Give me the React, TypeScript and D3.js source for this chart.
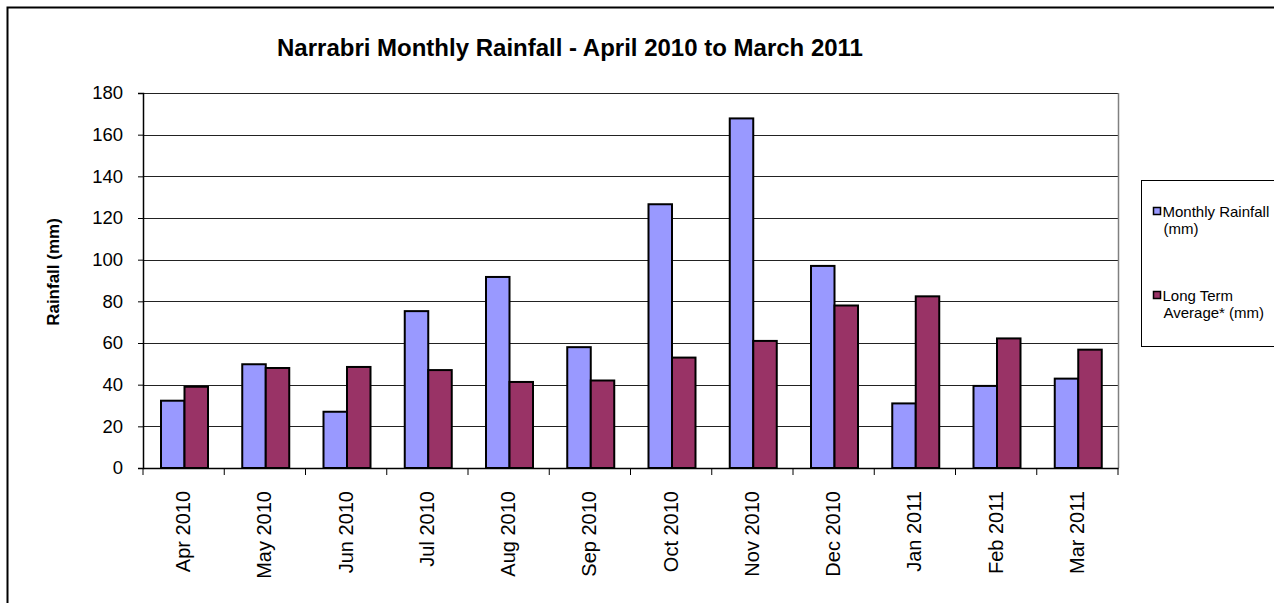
import * as d3 from "d3";
import React, { useRef, useEffect } from "react";

const months = ["Apr 2010", "May 2010", "Jun 2010", "Jul 2010", "Aug 2010", "Sep 2010", "Oct 2010", "Nov 2010", "Dec 2010", "Jan 2011", "Feb 2011", "Mar 2011"];
const monthlyRainfall = [32.3, 49.8, 27, 75.3, 91.7, 58, 126.6, 167.8, 97, 31, 39.4, 42.9];
const longTermAverage = [39, 48, 48.5, 47, 41.3, 42, 53, 61, 78, 82.4, 62.2, 56.8];
const seriesNames = ["Monthly Rainfall (mm)", "Long Term Average* (mm)"];
const yTicks = [0, 20, 40, 60, 80, 100, 120, 140, 160, 180];

const W = 1274, H = 603;
const margin = { top: 93, right: 156, bottom: 135, left: 143 };
const colors = ["#9999ff", "#993366"];
const font = "'Liberation Sans', Arial, sans-serif";

function App() {
  const ref = useRef(null);

  useEffect(() => {
    const svg = d3.select(ref.current);
    svg.selectAll("*").remove();

    const width = W - margin.left - margin.right;
    const height = H - margin.top - margin.bottom;

    // outer chart border
    svg.append("rect")
      .attr("x", 7.5).attr("y", 7.5)
      .attr("width", W).attr("height", H)
      .attr("fill", "white").attr("stroke", "black").attr("stroke-width", 2);

    svg.append("text")
      .attr("x", 570).attr("y", 56)
      .attr("text-anchor", "middle")
      .style("font-family", font).style("font-weight", "bold").style("font-size", "24px")
      .text("Narrabri Monthly Rainfall - April 2010 to March 2011");

    const g = svg.append("g").attr("transform", `translate(${margin.left},${margin.top})`);

    const x = d3.scaleBand().domain(months).range([0, width]);
    const x1 = d3.scaleBand().domain(["a", "b"]).range([18, 18 + 47]);
    const y = d3.scaleLinear().domain([0, 180]).range([height, 0]);

    // gridlines
    g.selectAll(".grid")
      .data(yTicks.slice(1))
      .enter().append("line")
      .attr("x1", 0).attr("x2", width)
      .attr("y1", (d) => Math.round(y(d)) + 0.5).attr("y2", (d) => Math.round(y(d)) + 0.5)
      .attr("stroke", "#222").attr("stroke-width", 1);

    // right border of plot
    g.append("line")
      .attr("x1", width + 0.5).attr("x2", width + 0.5)
      .attr("y1", 0).attr("y2", height)
      .attr("stroke", "#808080").attr("stroke-width", 1.5);

    // bars
    const groups = g.selectAll(".grp")
      .data(months)
      .enter().append("g")
      .attr("transform", (d) => `translate(${x(d)},0)`);

    groups.append("rect")
      .attr("x", x1("a")).attr("width", x1.bandwidth())
      .attr("y", (d, i) => y(monthlyRainfall[i]))
      .attr("height", (d, i) => height - y(monthlyRainfall[i]))
      .attr("fill", colors[0]).attr("stroke", "black").attr("stroke-width", 2);

    groups.append("rect")
      .attr("x", x1("b")).attr("width", x1.bandwidth())
      .attr("y", (d, i) => y(longTermAverage[i]))
      .attr("height", (d, i) => height - y(longTermAverage[i]))
      .attr("fill", colors[1]).attr("stroke", "black").attr("stroke-width", 2);

    // Y axis
    const yAxis = g.append("g")
      .call(d3.axisLeft(y).tickValues(yTicks).tickSize(5).tickPadding(15));
    yAxis.select(".domain").attr("stroke", "black").attr("stroke-width", 1.5);
    yAxis.selectAll("line").attr("stroke", "black");
    yAxis.selectAll("text").style("font-family", font).style("font-size", "18.5px").attr("fill", "black");

    // X axis
    const xAxis = g.append("g")
      .attr("transform", `translate(0,${height})`)
      .call(d3.axisBottom(x).tickSize(0));
    xAxis.select(".domain").attr("stroke", "black").attr("stroke-width", 1.5);
    xAxis.selectAll("text")
      .style("font-family", font).style("font-size", "20px").attr("fill", "black")
      .attr("text-anchor", "end")
      .attr("transform", "rotate(-90)")
      .attr("x", -23).attr("y", 0).attr("dy", "0.33em");

    // category separator ticks
    g.selectAll(".xt")
      .data(d3.range(months.length + 1))
      .enter().append("line")
      .attr("x1", (i) => i * x.step()).attr("x2", (i) => i * x.step())
      .attr("y1", height).attr("y2", height + 7)
      .attr("stroke", "black");

    svg.append("text")
      .attr("transform", `translate(59,272) rotate(-90)`)
      .attr("text-anchor", "middle")
      .style("font-family", font).style("font-weight", "bold").style("font-size", "17px")
      .text("Rainfall (mm)");

    // legend
    const lg = svg.append("g").attr("transform", "translate(1141.5,180.5)");
    lg.append("rect")
      .attr("width", 150).attr("height", 166)
      .attr("fill", "white").attr("stroke", "black").attr("stroke-width", 1);

    const legendLines = [["Monthly Rainfall", "(mm)"], ["Long Term", "Average* (mm)"]];
    seriesNames.forEach((name, i) => {
      const item = lg.append("g").attr("transform", `translate(0,${32 + i * 84})`);
      item.append("rect")
        .attr("x", 12).attr("y", -5).attr("width", 7).attr("height", 7)
        .attr("fill", colors[i]).attr("stroke", "black").attr("stroke-width", 1.5);
      legendLines[i].forEach((t, j) => {
        item.append("text")
          .attr("x", j === 0 ? 21 : 22).attr("y", 4 + j * 17)
          .style("font-family", font).style("font-size", "15px")
          .text(t);
      });
    });
  }, []);

  return (
    <div>
      <svg ref={ref} width={W} height={H} style={{ position: "absolute", left: 0, top: 0 }}></svg>
    </div>
  );
}

export default App;
